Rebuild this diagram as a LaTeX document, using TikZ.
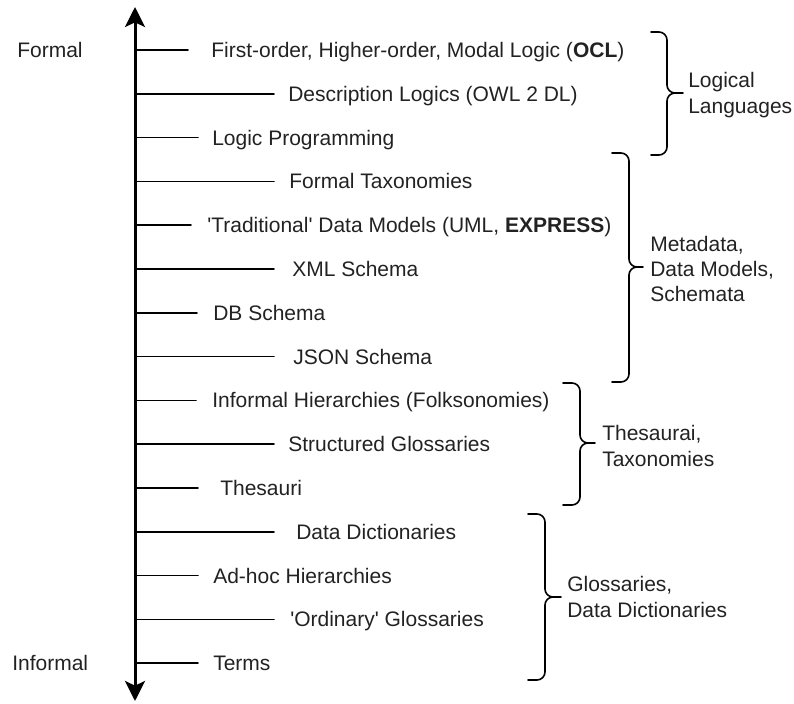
\documentclass[tikz,border=0pt]{standalone}
\usepackage{fontspec}
\setmainfont{Liberation Sans}
\usetikzlibrary{arrows,arrows.meta,calc,positioning}
\definecolor{ink}{RGB}{34,34,34}
\begin{document}
\begin{tikzpicture}[x=0.75pt,y=-0.75pt,line join=round,line cap=round,
  axis/.style={line width=2.25pt,{Stealth[length=15pt,width=15pt,inset=3.5pt]}-{Stealth[length=15pt,width=15pt,inset=3.5pt]}},
  tick/.style={line width=1.25pt},
  brace/.style={line width=1.2pt,rounded corners=6pt},
  item/.style={anchor=west,inner sep=0pt,text=ink,font=\fontsize{15.75}{19}\selectfont,text height=11.3pt,text depth=0pt},
  group/.style={anchor=west,inner sep=0pt,align=left,text=ink,font=\fontsize{15.75}{19}\selectfont}]
\useasboundingbox (0,0) rectangle (794,704);
\coordinate (top) at (135,7);
\coordinate (bot) at (135,701);
\draw[axis](bot)--(top);
\node[item] (formal) at (17,50) {Formal};
\node[item] (informal) at (12,663) {Informal};
\foreach \n/\e/\t/\s in {1/188/211/{First-order, Higher-order, Modal Logic (\textbf{OCL})},
  2/274/288/{Description Logics (OWL 2 DL)},3/198/212/{Logic Programming},
  4/274/289/{Formal Taxonomies},
  5/191/207/{\textquotesingle Traditional\textquotesingle{} Data Models (UML, \textbf{EXPRESS})},
  6/274/292/{XML Schema},7/197/213/{DB Schema},8/274/293/{JSON Schema},
  9/196/212/{Informal Hierarchies (Folksonomies)},10/274/288/{Structured Glossaries},
  11/198/220/{Thesauri},12/274/296/{Data Dictionaries},13/198/213/{Ad-hoc Hierarchies},
  14/274/290/{\textquotesingle Ordinary\textquotesingle{} Glossaries},15/198/213/{Terms}}{
  \pgfmathsetmacro\y{50+(\n-1)*43.8}
  \coordinate (a\n) at (135,\y);
  \coordinate (e\n) at (\e,\y);
  \node[item] (t\n) at (\t,\y) {\s};
  \draw[tick](a\n)--(e\n);}
% braces
\foreach \l/\v/\p/\a/\b/\m in {651/667/683/32/155/93,612/629/643/153/382/267,
  563/580/595/383/505/443,528/545/561/514/680/597}{
  \draw[brace](\l,\a)--(\v,\a)--(\v,\m)--(\p,\m) (\l,\b)--(\v,\b)--(\v,\m)--(\p,\m);}
\node[group] (logic) at (688,95) {Logical\\Languages};
\node[group] (meta) at (650,269) {Metadata,\\Data Models,\\Schemata};
\node[group] (thes) at (602,446) {Thesaurai,\\Taxonomies};
\node[group] (gloss) at (567,597) {Glossaries,\\Data Dictionaries};
\end{tikzpicture}
\end{document}
